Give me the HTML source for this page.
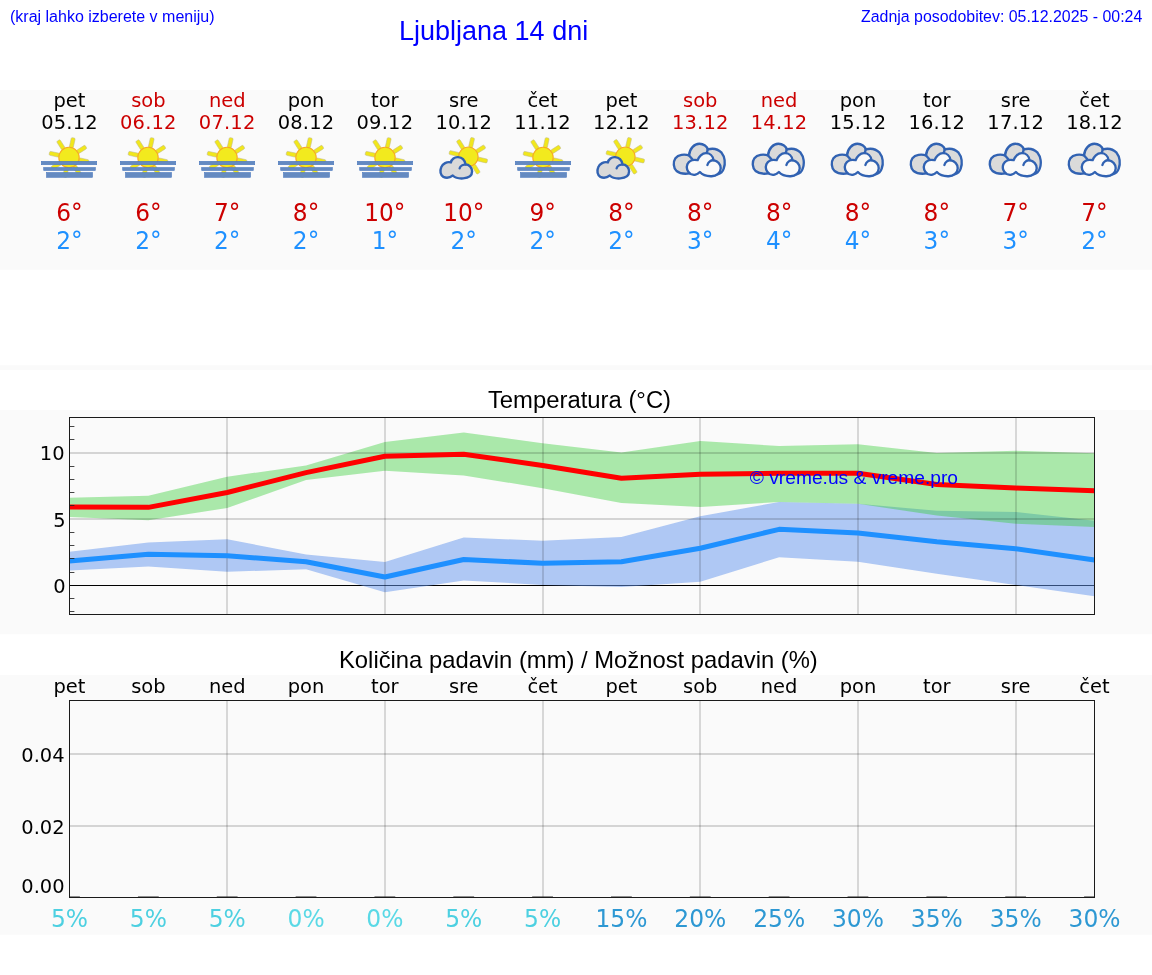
<!DOCTYPE html>
<html lang="sl"><head><meta charset="utf-8"><title>Ljubljana 14 dni</title>
<style>
html,body{margin:0;padding:0;background:#fff;}
body{width:1152px;height:975px;position:relative;overflow:hidden;font-family:"Liberation Sans",sans-serif;}
.band{position:absolute;left:0;width:1152px;background:#fafafa;}
.hd{position:absolute;color:#0000ff;white-space:nowrap;font-family:"Liberation Sans",sans-serif;}
svg{position:absolute;left:0;top:0;}
.dv{font-family:"DejaVu Sans",sans-serif;}
.ar{font-family:"Liberation Sans",sans-serif;}
</style></head><body>
<svg width="1152" height="975" viewBox="0 0 1152 975">
<rect x="0" y="90" width="1152" height="179.7" fill="#fafafa"/>
<rect x="0" y="365.2" width="1152" height="4.8" fill="#fafafa"/>
<rect x="0" y="410" width="1152" height="224.3" fill="#fafafa"/>
<rect x="0" y="675" width="1152" height="259.7" fill="#fafafa"/>
<text class="ar" x="10" y="22" font-size="16" fill="#0000ff">(kraj lahko izberete v meniju)</text>
<text class="ar" x="399" y="39.5" font-size="27" fill="#0000ff">Ljubljana 14 dni</text>
<text class="ar" x="1142.3" y="22" font-size="15.92" text-anchor="end" fill="#0000ff">Zadnja posodobitev: 05.12.2025 - 00:24</text>
<defs>

<g id="sun">
<rect x="-2" y="-20.1" width="4" height="10.00" rx="1.1" fill="#f1e71c" stroke="#bdb98c" stroke-width="0.5" transform="rotate(12.5)"/>
<rect x="-2" y="-20.1" width="4" height="10.00" rx="1.1" fill="#f1e71c" stroke="#bdb98c" stroke-width="0.5" transform="rotate(57.5)"/>
<rect x="-2" y="-20.1" width="4" height="10.00" rx="1.1" fill="#f1e71c" stroke="#bdb98c" stroke-width="0.5" transform="rotate(102.5)"/>
<rect x="-2" y="-20.1" width="4" height="10.00" rx="1.1" fill="#f1e71c" stroke="#bdb98c" stroke-width="0.5" transform="rotate(147.5)"/>
<rect x="-2" y="-20.1" width="4" height="10.00" rx="1.1" fill="#f1e71c" stroke="#bdb98c" stroke-width="0.5" transform="rotate(192.5)"/>
<rect x="-2" y="-20.1" width="4" height="10.00" rx="1.1" fill="#f1e71c" stroke="#bdb98c" stroke-width="0.5" transform="rotate(237.5)"/>
<rect x="-2" y="-20.1" width="4" height="10.00" rx="1.1" fill="#f1e71c" stroke="#bdb98c" stroke-width="0.5" transform="rotate(282.5)"/>
<rect x="-2" y="-20.1" width="4" height="10.00" rx="1.1" fill="#f1e71c" stroke="#bdb98c" stroke-width="0.5" transform="rotate(327.5)"/>
<circle r="10.2" fill="#f2ea1e" stroke="#f7a922" stroke-width="1.1"/>
</g>
<g id="sun2">
<rect x="-2" y="-19.5" width="4" height="9.80" rx="1.1" fill="#f1e71c" stroke="#bdb98c" stroke-width="0.5" transform="rotate(13)"/>
<rect x="-2" y="-19.5" width="4" height="9.80" rx="1.1" fill="#f1e71c" stroke="#bdb98c" stroke-width="0.5" transform="rotate(58)"/>
<rect x="-2" y="-19.5" width="4" height="9.80" rx="1.1" fill="#f1e71c" stroke="#bdb98c" stroke-width="0.5" transform="rotate(103)"/>
<rect x="-2" y="-19.5" width="4" height="9.80" rx="1.1" fill="#f1e71c" stroke="#bdb98c" stroke-width="0.5" transform="rotate(148)"/>
<rect x="-2" y="-19.5" width="4" height="9.80" rx="1.1" fill="#f1e71c" stroke="#bdb98c" stroke-width="0.5" transform="rotate(193)"/>
<rect x="-2" y="-19.5" width="4" height="9.80" rx="1.1" fill="#f1e71c" stroke="#bdb98c" stroke-width="0.5" transform="rotate(238)"/>
<rect x="-2" y="-19.5" width="4" height="9.80" rx="1.1" fill="#f1e71c" stroke="#bdb98c" stroke-width="0.5" transform="rotate(283)"/>
<rect x="-2" y="-19.5" width="4" height="9.80" rx="1.1" fill="#f1e71c" stroke="#bdb98c" stroke-width="0.5" transform="rotate(328)"/>
<circle r="9.8" fill="#f2ea1e" stroke="#f7a922" stroke-width="1.1"/>
</g>
<g id="cloud1" transform="scale(0.055556)">
<path d="M385 765 C340 800 270 815 215 790 C160 760 150 680 175 620 C200 555 280 510 350 530 C360 470 420 430 480 435 C550 440 600 490 615 565 C675 565 732 620 732 690 C732 760 675 812 570 817 C490 822 420 800 385 765 Z" fill="#d9d9d9" stroke="#3162b2" stroke-width="43" stroke-linejoin="round"/>
<path d="M618 570 C570 565 520 590 508 635" fill="none" stroke="#3162b2" stroke-width="43" stroke-linecap="round"/>
</g>
<g id="fog">
<use href="#sun" x="-0.5" y="157.5"/>
<rect x="-28.2" y="161.3" width="55.4" height="3.4" fill="#648ac1" stroke="#4c79be" stroke-width="0.6"/>
<rect x="-25.8" y="167.5" width="51.6" height="3.0" fill="#648ac1" stroke="#4c79be" stroke-width="0.6"/>
<rect x="-23.0" y="172.5" width="46.0" height="4.8" fill="#648ac1" stroke="#4c79be" stroke-width="0.6"/>
</g>
<g id="pc">
<use href="#sun2" x="4.7" y="156.8"/>
<g transform="translate(-32.2,133)"><use href="#cloud1"/></g>
</g>
<g id="cl" transform="translate(-32.6,133.2) scale(0.055556)">
<path d="M385 400 C390 280 480 190 570 190 C650 190 710 240 722 292 C800 270 900 280 970 350 C1027 420 1047 540 1008 640 C990 700 950 730 900 740 L700 600 L420 700 L400 722 C330 735 230 735 160 680 C100 620 95 520 140 450 C190 385 300 370 385 400 Z" fill="#dadada" stroke="#3162b2" stroke-width="42" stroke-linejoin="round"/>
<path d="M385 400 L445 470 M722 292 L705 350" fill="none" stroke="#3162b2" stroke-width="42" stroke-linecap="round"/>
<path d="M580 700 C540 745 470 760 415 735 C350 700 330 620 355 560 C380 500 450 465 540 485 C560 420 620 360 690 360 C760 360 815 410 825 485 C890 500 950 550 955 630 C955 710 880 770 790 775 C700 778 620 745 580 700 Z" fill="#fafafa" stroke="#3162b2" stroke-width="42" stroke-linejoin="round"/>
<path d="M828 488 C780 480 730 520 715 572" fill="none" stroke="#3162b2" stroke-width="42" stroke-linecap="round"/>
</g>
</defs>

<text class="dv" x="69.50" y="106.6" font-size="19.44" text-anchor="middle" fill="#000">pet</text>
<text class="dv" x="69.50" y="129.2" font-size="19.44" letter-spacing="0.2" text-anchor="middle" fill="#000">05.12</text>
<use href="#fog" x="69.50" y="0"/>
<text class="dv" transform="translate(69.50,221) scale(0.985,1.045)" font-size="23.61" text-anchor="middle" fill="#cc0000">6°</text>
<text class="dv" transform="translate(69.50,249) scale(0.985,1.045)" font-size="23.61" text-anchor="middle" fill="#1e90ff">2°</text>
<text class="dv" x="148.35" y="106.6" font-size="19.44" text-anchor="middle" fill="#cc0000">sob</text>
<text class="dv" x="148.35" y="129.2" font-size="19.44" letter-spacing="0.2" text-anchor="middle" fill="#cc0000">06.12</text>
<use href="#fog" x="148.50" y="0"/>
<text class="dv" transform="translate(148.35,221) scale(0.985,1.045)" font-size="23.61" text-anchor="middle" fill="#cc0000">6°</text>
<text class="dv" transform="translate(148.35,249) scale(0.985,1.045)" font-size="23.61" text-anchor="middle" fill="#1e90ff">2°</text>
<text class="dv" x="227.19" y="106.6" font-size="19.44" text-anchor="middle" fill="#cc0000">ned</text>
<text class="dv" x="227.19" y="129.2" font-size="19.44" letter-spacing="0.2" text-anchor="middle" fill="#cc0000">07.12</text>
<use href="#fog" x="227.50" y="0"/>
<text class="dv" transform="translate(227.19,221) scale(0.985,1.045)" font-size="23.61" text-anchor="middle" fill="#cc0000">7°</text>
<text class="dv" transform="translate(227.19,249) scale(0.985,1.045)" font-size="23.61" text-anchor="middle" fill="#1e90ff">2°</text>
<text class="dv" x="306.04" y="106.6" font-size="19.44" text-anchor="middle" fill="#000">pon</text>
<text class="dv" x="306.04" y="129.2" font-size="19.44" letter-spacing="0.2" text-anchor="middle" fill="#000">08.12</text>
<use href="#fog" x="306.50" y="0"/>
<text class="dv" transform="translate(306.04,221) scale(0.985,1.045)" font-size="23.61" text-anchor="middle" fill="#cc0000">8°</text>
<text class="dv" transform="translate(306.04,249) scale(0.985,1.045)" font-size="23.61" text-anchor="middle" fill="#1e90ff">2°</text>
<text class="dv" x="384.88" y="106.6" font-size="19.44" text-anchor="middle" fill="#000">tor</text>
<text class="dv" x="384.88" y="129.2" font-size="19.44" letter-spacing="0.2" text-anchor="middle" fill="#000">09.12</text>
<use href="#fog" x="385.50" y="0"/>
<text class="dv" transform="translate(384.88,221) scale(0.985,1.045)" font-size="23.61" text-anchor="middle" fill="#cc0000">10°</text>
<text class="dv" transform="translate(384.88,249) scale(0.985,1.045)" font-size="23.61" text-anchor="middle" fill="#1e90ff">1°</text>
<text class="dv" x="463.73" y="106.6" font-size="19.44" text-anchor="middle" fill="#000">sre</text>
<text class="dv" x="463.73" y="129.2" font-size="19.44" letter-spacing="0.2" text-anchor="middle" fill="#000">10.12</text>
<use href="#pc" x="463.63" y="0"/>
<text class="dv" transform="translate(463.73,221) scale(0.985,1.045)" font-size="23.61" text-anchor="middle" fill="#cc0000">10°</text>
<text class="dv" transform="translate(463.73,249) scale(0.985,1.045)" font-size="23.61" text-anchor="middle" fill="#1e90ff">2°</text>
<text class="dv" x="542.58" y="106.6" font-size="19.44" text-anchor="middle" fill="#000">čet</text>
<text class="dv" x="542.58" y="129.2" font-size="19.44" letter-spacing="0.2" text-anchor="middle" fill="#000">11.12</text>
<use href="#fog" x="543.50" y="0"/>
<text class="dv" transform="translate(542.58,221) scale(0.985,1.045)" font-size="23.61" text-anchor="middle" fill="#cc0000">9°</text>
<text class="dv" transform="translate(542.58,249) scale(0.985,1.045)" font-size="23.61" text-anchor="middle" fill="#1e90ff">2°</text>
<text class="dv" x="621.42" y="106.6" font-size="19.44" text-anchor="middle" fill="#000">pet</text>
<text class="dv" x="621.42" y="129.2" font-size="19.44" letter-spacing="0.2" text-anchor="middle" fill="#000">12.12</text>
<use href="#pc" x="620.63" y="0"/>
<text class="dv" transform="translate(621.42,221) scale(0.985,1.045)" font-size="23.61" text-anchor="middle" fill="#cc0000">8°</text>
<text class="dv" transform="translate(621.42,249) scale(0.985,1.045)" font-size="23.61" text-anchor="middle" fill="#1e90ff">2°</text>
<text class="dv" x="700.27" y="106.6" font-size="19.44" text-anchor="middle" fill="#cc0000">sob</text>
<text class="dv" x="700.27" y="129.2" font-size="19.44" letter-spacing="0.2" text-anchor="middle" fill="#cc0000">13.12</text>
<use href="#cl" x="700.27" y="0"/>
<text class="dv" transform="translate(700.27,221) scale(0.985,1.045)" font-size="23.61" text-anchor="middle" fill="#cc0000">8°</text>
<text class="dv" transform="translate(700.27,249) scale(0.985,1.045)" font-size="23.61" text-anchor="middle" fill="#1e90ff">3°</text>
<text class="dv" x="779.12" y="106.6" font-size="19.44" text-anchor="middle" fill="#cc0000">ned</text>
<text class="dv" x="779.12" y="129.2" font-size="19.44" letter-spacing="0.2" text-anchor="middle" fill="#cc0000">14.12</text>
<use href="#cl" x="779.27" y="0"/>
<text class="dv" transform="translate(779.12,221) scale(0.985,1.045)" font-size="23.61" text-anchor="middle" fill="#cc0000">8°</text>
<text class="dv" transform="translate(779.12,249) scale(0.985,1.045)" font-size="23.61" text-anchor="middle" fill="#1e90ff">4°</text>
<text class="dv" x="857.96" y="106.6" font-size="19.44" text-anchor="middle" fill="#000">pon</text>
<text class="dv" x="857.96" y="129.2" font-size="19.44" letter-spacing="0.2" text-anchor="middle" fill="#000">15.12</text>
<use href="#cl" x="858.27" y="0"/>
<text class="dv" transform="translate(857.96,221) scale(0.985,1.045)" font-size="23.61" text-anchor="middle" fill="#cc0000">8°</text>
<text class="dv" transform="translate(857.96,249) scale(0.985,1.045)" font-size="23.61" text-anchor="middle" fill="#1e90ff">4°</text>
<text class="dv" x="936.81" y="106.6" font-size="19.44" text-anchor="middle" fill="#000">tor</text>
<text class="dv" x="936.81" y="129.2" font-size="19.44" letter-spacing="0.2" text-anchor="middle" fill="#000">16.12</text>
<use href="#cl" x="937.27" y="0"/>
<text class="dv" transform="translate(936.81,221) scale(0.985,1.045)" font-size="23.61" text-anchor="middle" fill="#cc0000">8°</text>
<text class="dv" transform="translate(936.81,249) scale(0.985,1.045)" font-size="23.61" text-anchor="middle" fill="#1e90ff">3°</text>
<text class="dv" x="1015.65" y="106.6" font-size="19.44" text-anchor="middle" fill="#000">sre</text>
<text class="dv" x="1015.65" y="129.2" font-size="19.44" letter-spacing="0.2" text-anchor="middle" fill="#000">17.12</text>
<use href="#cl" x="1016.27" y="0"/>
<text class="dv" transform="translate(1015.65,221) scale(0.985,1.045)" font-size="23.61" text-anchor="middle" fill="#cc0000">7°</text>
<text class="dv" transform="translate(1015.65,249) scale(0.985,1.045)" font-size="23.61" text-anchor="middle" fill="#1e90ff">3°</text>
<text class="dv" x="1094.50" y="106.6" font-size="19.44" text-anchor="middle" fill="#000">čet</text>
<text class="dv" x="1094.50" y="129.2" font-size="19.44" letter-spacing="0.2" text-anchor="middle" fill="#000">18.12</text>
<use href="#cl" x="1095.27" y="0"/>
<text class="dv" transform="translate(1094.50,221) scale(0.985,1.045)" font-size="23.61" text-anchor="middle" fill="#cc0000">7°</text>
<text class="dv" transform="translate(1094.50,249) scale(0.985,1.045)" font-size="23.61" text-anchor="middle" fill="#1e90ff">2°</text>
<text class="ar" x="579.5" y="407.7" font-size="23.85" text-anchor="middle" fill="#000">Temperatura (°C)</text>
<line x1="69.5" x2="1094.5" y1="585.50" y2="585.50" stroke="#000" stroke-width="1"/>
<polygon points="69.50,551.73 148.35,542.45 227.19,539.27 306.04,554.51 384.88,562.06 463.73,537.55 542.58,540.73 621.42,537.02 700.27,516.22 779.12,502.04 857.96,503.76 936.81,510.78 1015.65,511.98 1094.50,520.72 1094.50,596.25 1015.65,584.98 936.81,573.72 857.96,561.80 779.12,557.29 700.27,581.80 621.42,586.97 542.58,584.98 463.73,580.48 384.88,592.26 306.04,569.22 227.19,571.73 148.35,566.42 69.50,570.41" fill="#6495ed" fill-opacity="0.5"/>
<polygon points="69.50,497.80 148.35,495.81 227.19,476.73 306.04,465.47 384.88,442.02 463.73,432.48 542.58,443.21 621.42,452.48 700.27,440.96 779.12,445.99 857.96,444.27 936.81,453.01 1015.65,450.76 1094.50,453.28 1094.50,526.95 1015.65,523.77 936.81,515.55 857.96,503.76 779.12,502.04 700.27,506.94 621.42,502.97 542.58,488.13 463.73,475.54 384.88,470.77 306.04,480.04 227.19,508.00 148.35,520.18 69.50,517.01" fill="#32cd32" fill-opacity="0.4"/>
<line x1="69.5" x2="1094.5" y1="519.00" y2="519.00" stroke="#000" stroke-opacity="0.2" stroke-width="1.39"/>
<line x1="69.5" x2="1094.5" y1="453.00" y2="453.00" stroke="#000" stroke-opacity="0.2" stroke-width="1.39"/>
<line x1="227" x2="227" y1="417.5" y2="614.5" stroke="#000" stroke-opacity="0.2" stroke-width="1.39"/>
<line x1="385" x2="385" y1="417.5" y2="614.5" stroke="#000" stroke-opacity="0.2" stroke-width="1.39"/>
<line x1="543" x2="543" y1="417.5" y2="614.5" stroke="#000" stroke-opacity="0.2" stroke-width="1.39"/>
<line x1="700" x2="700" y1="417.5" y2="614.5" stroke="#000" stroke-opacity="0.2" stroke-width="1.39"/>
<line x1="858" x2="858" y1="417.5" y2="614.5" stroke="#000" stroke-opacity="0.2" stroke-width="1.39"/>
<line x1="1016" x2="1016" y1="417.5" y2="614.5" stroke="#000" stroke-opacity="0.2" stroke-width="1.39"/>
<polyline points="69.50,507.07 148.35,507.34 227.19,492.50 306.04,472.62 384.88,456.19 463.73,454.21 542.58,465.47 621.42,478.19 700.27,474.21 779.12,473.29 857.96,473.29 936.81,484.55 1015.65,488.11 1094.50,490.63" fill="none" stroke="#ff0000" stroke-width="5" stroke-linejoin="round"/>
<polyline points="69.50,561.00 148.35,554.24 227.19,555.70 306.04,561.80 384.88,577.02 463.73,559.54 542.58,563.25 621.42,561.80 700.27,548.28 779.12,529.33 857.96,533.04 936.81,541.79 1015.65,548.73 1094.50,559.99" fill="none" stroke="#1e90ff" stroke-width="5" stroke-linejoin="round"/>
<line x1="69.5" x2="74.4" y1="611.50" y2="611.50" stroke="#222" stroke-width="0.85"/>
<line x1="69.5" x2="74.4" y1="598.50" y2="598.50" stroke="#222" stroke-width="0.85"/>
<line x1="69.5" x2="74.4" y1="572.50" y2="572.50" stroke="#222" stroke-width="0.85"/>
<line x1="69.5" x2="74.4" y1="558.50" y2="558.50" stroke="#222" stroke-width="0.85"/>
<line x1="69.5" x2="74.4" y1="545.50" y2="545.50" stroke="#222" stroke-width="0.85"/>
<line x1="69.5" x2="74.4" y1="532.50" y2="532.50" stroke="#222" stroke-width="0.85"/>
<line x1="69.5" x2="74.4" y1="505.50" y2="505.50" stroke="#222" stroke-width="0.85"/>
<line x1="69.5" x2="74.4" y1="492.50" y2="492.50" stroke="#222" stroke-width="0.85"/>
<line x1="69.5" x2="74.4" y1="479.50" y2="479.50" stroke="#222" stroke-width="0.85"/>
<line x1="69.5" x2="74.4" y1="466.50" y2="466.50" stroke="#222" stroke-width="0.85"/>
<line x1="69.5" x2="74.4" y1="439.50" y2="439.50" stroke="#222" stroke-width="0.85"/>
<line x1="69.5" x2="74.4" y1="426.50" y2="426.50" stroke="#222" stroke-width="0.85"/>
<rect x="69.5" y="417.5" width="1025.0" height="197.0" fill="none" stroke="#1a1a1a" stroke-width="1"/>
<text class="dv" x="65.5" y="593.40" font-size="19.44" text-anchor="end" fill="#000">0</text>
<text class="dv" x="65.5" y="527.15" font-size="19.44" text-anchor="end" fill="#000">5</text>
<text class="dv" x="64.5" y="459.90" font-size="19.44" text-anchor="end" fill="#000">10</text>
<text class="ar" x="749.8" y="484.2" font-size="19.2" fill="#0000ff">© vreme.us &amp; vreme.pro</text>
<text class="ar" x="578.4" y="668.2" font-size="23.8" text-anchor="middle" fill="#000">Količina padavin (mm) / Možnost padavin (%)</text>
<text class="dv" x="69.50" y="692.5" font-size="19.44" text-anchor="middle" fill="#000">pet</text>
<text class="dv" x="148.35" y="692.5" font-size="19.44" text-anchor="middle" fill="#000">sob</text>
<text class="dv" x="227.19" y="692.5" font-size="19.44" text-anchor="middle" fill="#000">ned</text>
<text class="dv" x="306.04" y="692.5" font-size="19.44" text-anchor="middle" fill="#000">pon</text>
<text class="dv" x="384.88" y="692.5" font-size="19.44" text-anchor="middle" fill="#000">tor</text>
<text class="dv" x="463.73" y="692.5" font-size="19.44" text-anchor="middle" fill="#000">sre</text>
<text class="dv" x="542.58" y="692.5" font-size="19.44" text-anchor="middle" fill="#000">čet</text>
<text class="dv" x="621.42" y="692.5" font-size="19.44" text-anchor="middle" fill="#000">pet</text>
<text class="dv" x="700.27" y="692.5" font-size="19.44" text-anchor="middle" fill="#000">sob</text>
<text class="dv" x="779.12" y="692.5" font-size="19.44" text-anchor="middle" fill="#000">ned</text>
<text class="dv" x="857.96" y="692.5" font-size="19.44" text-anchor="middle" fill="#000">pon</text>
<text class="dv" x="936.81" y="692.5" font-size="19.44" text-anchor="middle" fill="#000">tor</text>
<text class="dv" x="1015.65" y="692.5" font-size="19.44" text-anchor="middle" fill="#000">sre</text>
<text class="dv" x="1094.50" y="692.5" font-size="19.44" text-anchor="middle" fill="#000">čet</text>
<line x1="69.5" x2="1094.5" y1="754.0" y2="754.0" stroke="#000" stroke-opacity="0.2" stroke-width="1.39"/>
<line x1="69.5" x2="1094.5" y1="826.0" y2="826.0" stroke="#000" stroke-opacity="0.2" stroke-width="1.39"/>
<line x1="227" x2="227" y1="700.5" y2="897.5" stroke="#000" stroke-opacity="0.2" stroke-width="1.39"/>
<line x1="385" x2="385" y1="700.5" y2="897.5" stroke="#000" stroke-opacity="0.2" stroke-width="1.39"/>
<line x1="543" x2="543" y1="700.5" y2="897.5" stroke="#000" stroke-opacity="0.2" stroke-width="1.39"/>
<line x1="700" x2="700" y1="700.5" y2="897.5" stroke="#000" stroke-opacity="0.2" stroke-width="1.39"/>
<line x1="858" x2="858" y1="700.5" y2="897.5" stroke="#000" stroke-opacity="0.2" stroke-width="1.39"/>
<line x1="1016" x2="1016" y1="700.5" y2="897.5" stroke="#000" stroke-opacity="0.2" stroke-width="1.39"/>
<line x1="69.50" x2="79.90" y1="897" y2="897" stroke="#222" stroke-width="1"/>
<line x1="137.95" x2="158.75" y1="897" y2="897" stroke="#222" stroke-width="1"/>
<line x1="216.79" x2="237.59" y1="897" y2="897" stroke="#222" stroke-width="1"/>
<line x1="295.64" x2="316.44" y1="897" y2="897" stroke="#222" stroke-width="1"/>
<line x1="374.48" x2="395.28" y1="897" y2="897" stroke="#222" stroke-width="1"/>
<line x1="453.33" x2="474.13" y1="897" y2="897" stroke="#222" stroke-width="1"/>
<line x1="532.18" x2="552.98" y1="897" y2="897" stroke="#222" stroke-width="1"/>
<line x1="611.02" x2="631.82" y1="897" y2="897" stroke="#222" stroke-width="1"/>
<line x1="689.87" x2="710.67" y1="897" y2="897" stroke="#222" stroke-width="1"/>
<line x1="768.72" x2="789.52" y1="897" y2="897" stroke="#222" stroke-width="1"/>
<line x1="847.56" x2="868.36" y1="897" y2="897" stroke="#222" stroke-width="1"/>
<line x1="926.41" x2="947.21" y1="897" y2="897" stroke="#222" stroke-width="1"/>
<line x1="1005.25" x2="1026.05" y1="897" y2="897" stroke="#222" stroke-width="1"/>
<line x1="1084.10" x2="1094.50" y1="897" y2="897" stroke="#222" stroke-width="1"/>
<rect x="69.5" y="700.5" width="1025.0" height="197.0" fill="none" stroke="#1a1a1a" stroke-width="1"/>
<text class="dv" x="64.6" y="762.10" font-size="19.44" text-anchor="end" fill="#000">0.04</text>
<text class="dv" x="64.6" y="834.10" font-size="19.44" text-anchor="end" fill="#000">0.02</text>
<text class="dv" x="64.6" y="892.80" font-size="19.44" text-anchor="end" fill="#000">0.00</text>
<text class="dv" transform="translate(69.50,926.6) scale(0.99,1.03)" font-size="23.61" text-anchor="middle" fill="#4dd0e1">5%</text>
<text class="dv" transform="translate(148.35,926.6) scale(0.99,1.03)" font-size="23.61" text-anchor="middle" fill="#4dd0e1">5%</text>
<text class="dv" transform="translate(227.19,926.6) scale(0.99,1.03)" font-size="23.61" text-anchor="middle" fill="#4dd0e1">5%</text>
<text class="dv" transform="translate(306.04,926.6) scale(0.99,1.03)" font-size="23.61" text-anchor="middle" fill="#5ad9e6">0%</text>
<text class="dv" transform="translate(384.88,926.6) scale(0.99,1.03)" font-size="23.61" text-anchor="middle" fill="#5ad9e6">0%</text>
<text class="dv" transform="translate(463.73,926.6) scale(0.99,1.03)" font-size="23.61" text-anchor="middle" fill="#4dd0e1">5%</text>
<text class="dv" transform="translate(542.58,926.6) scale(0.99,1.03)" font-size="23.61" text-anchor="middle" fill="#4dd0e1">5%</text>
<text class="dv" transform="translate(621.42,926.6) scale(0.99,1.03)" font-size="23.61" text-anchor="middle" fill="#2d98d3">15%</text>
<text class="dv" transform="translate(700.27,926.6) scale(0.99,1.03)" font-size="23.61" text-anchor="middle" fill="#2d98d3">20%</text>
<text class="dv" transform="translate(779.12,926.6) scale(0.99,1.03)" font-size="23.61" text-anchor="middle" fill="#2d98d3">25%</text>
<text class="dv" transform="translate(857.96,926.6) scale(0.99,1.03)" font-size="23.61" text-anchor="middle" fill="#2d98d3">30%</text>
<text class="dv" transform="translate(936.81,926.6) scale(0.99,1.03)" font-size="23.61" text-anchor="middle" fill="#2d98d3">35%</text>
<text class="dv" transform="translate(1015.65,926.6) scale(0.99,1.03)" font-size="23.61" text-anchor="middle" fill="#2d98d3">35%</text>
<text class="dv" transform="translate(1094.50,926.6) scale(0.99,1.03)" font-size="23.61" text-anchor="middle" fill="#2d98d3">30%</text>
</svg></body></html>
